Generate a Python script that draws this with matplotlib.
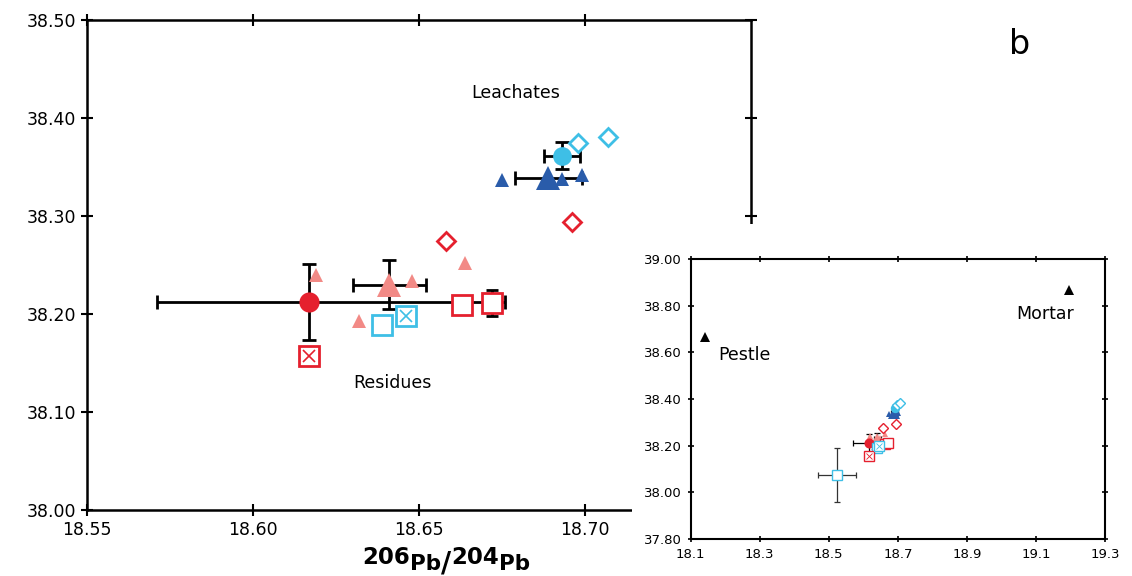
import matplotlib.pyplot as plt
from matplotlib.patches import Rectangle

# colours
RED = '#E5202E'
SALMON = '#F28A86'
CYAN = '#3EBFE6'
BLUE = '#2A5CAA'

# Pb isotope data (206Pb/204Pb, 208Pb/204Pb)
red_circle_x = [18.617]
red_circle_y = [38.212]
red_circle_xerr = [[0.046], [0.059]]
red_circle_yerr = [0.039]

salmon_big_x = [18.641]
salmon_big_y = [38.230]
salmon_big_xerr = [0.011]
salmon_big_yerr = [0.025]

salmon_small_x = [18.619, 18.648, 18.664, 18.632]
salmon_small_y = [38.240, 38.234, 38.252, 38.193]

red_diamond_x = [18.658, 18.696]
red_diamond_y = [38.274, 38.294]

red_square_x = [18.663, 18.672]
red_square_y = [38.209, 38.2115]
red_square_yerr = [0.0, 0.0135]

red_xsquare_x = [18.617]
red_xsquare_y = [38.157]

cyan_square_x = [18.639]
cyan_square_y = [38.189]

cyan_xsquare_x = [18.646]
cyan_xsquare_y = [38.198]

cyan_circle_x = [18.693]
cyan_circle_y = [38.3615]
cyan_circle_xerr = [0.0055]
cyan_circle_yerr = [0.014]

cyan_diamond_x = [18.698, 18.707]
cyan_diamond_y = [38.375, 38.381]

blue_big_x = [18.689]
blue_big_y = [38.339]
blue_big_xerr = [0.010]

blue_small_x = [18.675, 18.693, 18.699]
blue_small_y = [38.337, 38.338, 38.3415]

# only in the inset
cyan_far_x = [18.523]
cyan_far_y = [38.073]
cyan_far_xerr = [0.055]
cyan_far_yerr = [0.116]

tool_names = ['Pestle', 'Mortar']
tool_x = [18.141, 19.197]
tool_y = [38.667, 38.867]

main_xticks = [18.55, 18.60, 18.65, 18.70]
main_yticks = [38.00, 38.10, 38.20, 38.30, 38.40, 38.50]
inset_xticks = [18.1, 18.3, 18.5, 18.7, 18.9, 19.1, 19.3]
inset_yticks = [37.80, 38.00, 38.20, 38.40, 38.60, 38.80, 39.00]


def draw_points(ax, s, mew, elw, cap):
    # error bars
    eb = dict(fmt='none', ecolor='black', elinewidth=elw, capsize=cap, capthick=elw, zorder=2)
    ax.errorbar(red_circle_x, red_circle_y, xerr=red_circle_xerr, yerr=red_circle_yerr, **eb)
    ax.errorbar(salmon_big_x, salmon_big_y, xerr=salmon_big_xerr, yerr=salmon_big_yerr, **eb)
    ax.errorbar(red_square_x[1:], red_square_y[1:], yerr=red_square_yerr[1:],
                **dict(eb, capsize=cap * 0.8))
    ax.errorbar(cyan_circle_x, cyan_circle_y, xerr=cyan_circle_xerr, yerr=cyan_circle_yerr, **eb)
    ax.errorbar(blue_big_x, blue_big_y, xerr=blue_big_xerr, **eb)

    kw = dict(linestyle='none', zorder=3)
    ax.plot(salmon_small_x, salmon_small_y, '^', color=SALMON, ms=9.5 * s, mew=0, **kw)
    ax.plot(salmon_big_x, salmon_big_y, '^', color=SALMON, ms=17 * s, mew=0, **kw)
    ax.plot(blue_small_x, blue_small_y, '^', color=BLUE, ms=9.5 * s, mew=0, **kw)
    ax.plot(blue_big_x, blue_big_y, '^', color=BLUE, ms=17 * s, mew=0, **kw)
    ax.plot(red_circle_x, red_circle_y, 'o', color=RED, ms=14.5 * s, mew=0, **kw)
    ax.plot(cyan_circle_x, cyan_circle_y, 'o', color=CYAN, ms=13.5 * s, mew=0, **kw)
    ax.plot(red_diamond_x, red_diamond_y, 'D', mfc='white', mec=RED, ms=9.5 * s, mew=mew, **kw)
    ax.plot(cyan_diamond_x, cyan_diamond_y, 'D', mfc='white', mec=CYAN, ms=9.5 * s, mew=mew, **kw)
    ax.plot(red_square_x, red_square_y, 's', mfc='white', mec=RED, ms=14 * s, mew=mew, **kw)
    ax.plot(cyan_square_x, cyan_square_y, 's', mfc='white', mec=CYAN, ms=14 * s, mew=mew, **kw)
    ax.plot(red_xsquare_x, red_xsquare_y, 's', mfc='white', mec=RED, ms=14 * s, mew=mew, **kw)
    ax.plot(red_xsquare_x, red_xsquare_y, 'x', color=RED, ms=9 * s, mew=mew * 0.6, **kw)
    ax.plot(cyan_xsquare_x, cyan_xsquare_y, 's', mfc='white', mec=CYAN, ms=14 * s, mew=mew, **kw)
    ax.plot(cyan_xsquare_x, cyan_xsquare_y, 'x', color=CYAN, ms=9 * s, mew=mew * 0.6, **kw)


fig = plt.figure(figsize=(11.32, 5.76), dpi=100)

# main panel
ax = fig.add_axes([87 / 1132, 1 - 510 / 576, 664 / 1132, 490 / 576])
draw_points(ax, 1.0, 2.0, 2.0, 5)
ax.set_xlim(18.55, 18.75)
ax.set_ylim(38.00, 38.50)
ax.set_xticks(main_xticks)
ax.set_xticklabels(['%.2f' % v for v in main_xticks])
ax.set_yticks(main_yticks)
ax.set_yticklabels(['%.2f' % v for v in main_yticks])
for sp in ax.spines.values():
    sp.set_linewidth(1.8)
ax.tick_params(direction='inout', length=8, width=1.5, labelsize=12.5, top=True, right=True,
               colors='black', pad=4)
ax.text(18.679, 38.426, 'Leachates', fontsize=12.5, ha='center', va='center')
ax.text(18.642, 38.130, 'Residues', fontsize=12.5, ha='center', va='center')

fig.text(1020 / 1132, 1 - 44 / 576, 'b', fontsize=24, ha='center', va='center')

# x label: 206Pb/204Pb with lowered "Pb" (text, size, baseline in px from top)
pieces = [('206', 16.5, 564), ('Pb', 15.5, 570), ('/', 20, 571), ('204', 16.5, 564), ('Pb', 15.5, 570)]
renderer = fig.canvas.get_renderer()
xpos = 362
for txt, size, base in pieces:
    t = fig.text(xpos / 1132, 1 - base / 576, txt, fontsize=size,
                 fontweight='bold', ha='left', va='baseline')
    bb = t.get_window_extent(renderer)
    xpos += bb.width

# white box hiding the lower-right part of the main panel
fig.patches.append(Rectangle((632 / 1132, 0), 1 - 632 / 1132, 1 - 224 / 576,
                             transform=fig.transFigure, facecolor='white',
                             edgecolor='none', zorder=1))

# inset
ins = fig.add_axes([690.7 / 1132, 1 - 539 / 576, 414.3 / 1132, 280 / 576], zorder=2)
draw_points(ins, 0.5, 1.0, 0.9, 2.5)
ins.errorbar(cyan_far_x, cyan_far_y, xerr=cyan_far_xerr, yerr=cyan_far_yerr, fmt='none',
             ecolor='#333333', elinewidth=0.9, capsize=2.5, capthick=0.9, zorder=2)
ins.plot(cyan_far_x, cyan_far_y, 's', mfc='white', mec=CYAN, ms=7, mew=1, zorder=3)
ins.plot(tool_x, tool_y, '^', color='black', ms=6.5, mew=0, linestyle='none')
ins.text(18.257, 38.589, tool_names[0], fontsize=12.5, ha='center', va='center')
ins.text(19.127, 38.764, tool_names[1], fontsize=12.5, ha='center', va='center')
ins.set_xlim(18.1, 19.3)
ins.set_ylim(37.80, 39.00)
ins.set_xticks(inset_xticks)
ins.set_xticklabels(['%.1f' % v for v in inset_xticks])
ins.set_yticks(inset_yticks)
ins.set_yticklabels(['%.2f' % v for v in inset_yticks])
for sp in ins.spines.values():
    sp.set_linewidth(1.5)
ins.tick_params(direction='inout', length=5, width=1.2, labelsize=9.5, top=True, right=True,
                pad=4)

fig.savefig('out.png', dpi=100)
